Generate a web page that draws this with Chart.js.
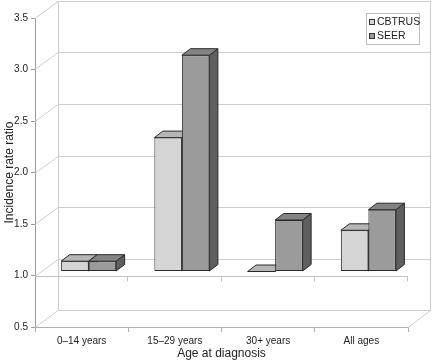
<!DOCTYPE html>
<html>
<head>
<meta charset="utf-8">
<script src="https://cdn.jsdelivr.net/npm/chart.js@4/dist/chart.umd.min.js"></script>
<style>
    html, body { margin: 0; padding: 0; background: #fff; }
    #wrap { width: 432px; height: 360px; position: relative; }
</style>
</head>
<body>
<div id="wrap"><canvas id="chart"></canvas></div>
<script>
// 데이터
const categories = ['0–14 years', '15–29 years', '30+ years', 'All ages'];
const cbtrusValues = [1.1, 2.3, 1.0, 1.4];
const seerValues = [1.1, 3.1, 1.5, 1.6];
const seriesNames = ['CBTRUS', 'SEER'];
const yMin = 0.5, yMax = 3.5, yStep = 0.5;
const barBase = 1.0;

// 3D 느낌을 위한 오프셋
const wallDepth = { x: 23, y: -17 };
const barShift = { x: 7, y: -4 };
const barDepth = { x: 8.5, y: -6.5 };

const frontColors = ['#d5d5d5', '#9b9b9b'];
const topColors = ['#b6b6b6', '#838383'];
const sideColors = ['#8c8c8c', '#5f5f5f'];
const gridColor = '#cdcdcd';

Chart.defaults.font.family = "'Liberation Sans', Arial, sans-serif";
Chart.defaults.color = '#222';

function line(ctx, x1, y1, x2, y2) {
    ctx.beginPath();
    ctx.moveTo(x1, y1);
    ctx.lineTo(x2, y2);
    ctx.stroke();
}

function poly(ctx, pts, fill) {
    ctx.beginPath();
    ctx.moveTo(pts[0][0], pts[0][1]);
    for (let i = 1; i < pts.length; i++) ctx.lineTo(pts[i][0], pts[i][1]);
    ctx.closePath();
    ctx.fillStyle = fill;
    ctx.fill();
    ctx.stroke();
}

// 벽, 바닥, 막대 옆면/윗면 그리기
const box3d = {
    id: 'box3d',
    beforeDatasetsDraw(chart) {
        const ctx = chart.ctx;
        const ys = chart.scales.y, xs = chart.scales.x;
        const L = chart.chartArea.left, R = chart.chartArea.right;
        const top = ys.getPixelForValue(yMax), bottom = ys.getPixelForValue(yMin);

        ctx.save();
        ctx.lineWidth = 1;
        ctx.strokeStyle = gridColor;
        // 뒤쪽 벽 눈금선 + 왼쪽 벽 사선
        for (let v = yMin; v <= yMax + 1e-9; v += yStep) {
            const y = Math.round(ys.getPixelForValue(v)) + 0.5;
            line(ctx, L + wallDepth.x, y + wallDepth.y, R + wallDepth.x, y + wallDepth.y);
            line(ctx, L, y, L + wallDepth.x, y + wallDepth.y);
        }
        const bx = Math.round(L + wallDepth.x) + 0.5;
        const rx = Math.round(R + wallDepth.x) - 0.5;
        line(ctx, bx, top + wallDepth.y, bx, bottom + wallDepth.y);
        line(ctx, rx, top + wallDepth.y, rx, bottom + wallDepth.y + 0.5);
        line(ctx, R, bottom + 0.5, rx, bottom + wallDepth.y + 0.5);

        // 1.0 위치의 가로축 선과 눈금
        const yb = Math.round(ys.getPixelForValue(barBase)) + 0.5;
        ctx.strokeStyle = '#c4c4c4';
        line(ctx, L, yb, R, yb);
        const step = xs.width / categories.length;
        for (let i = 1; i <= categories.length; i++) {
            const x = Math.round(xs.left + i * step) - 0.5;
            line(ctx, x, yb, x, yb + 5);
        }
        ctx.restore();

        // 막대 윗면과 옆면
        ctx.save();
        ctx.translate(barShift.x, barShift.y);
        ctx.lineWidth = 1;
        ctx.strokeStyle = '#2a2a2a';
        ctx.lineJoin = 'round';
        for (let c = 0; c < categories.length; c++) {
            for (let d = 0; d < chart.data.datasets.length; d++) {
                const el = chart.getDatasetMeta(d).data[c];
                const x1 = el.x - el.width / 2, x2 = el.x + el.width / 2;
                const yt = Math.min(el.y, el.base), yB = Math.max(el.y, el.base);
                const dx = barDepth.x, dy = barDepth.y;
                poly(ctx, [[x2, yt], [x2 + dx, yt + dy], [x2 + dx, yB + dy], [x2, yB]], sideColors[d]);
                poly(ctx, [[x1, yt], [x1 + dx, yt + dy], [x2 + dx, yt + dy], [x2, yt]], topColors[d]);
            }
        }
        // 앞면은 Chart.js가 같은 이동값으로 그림
    },
    afterDatasetsDraw(chart) {
        chart.ctx.restore();
    },
    afterDraw(chart) {
        // 범례
        const ctx = chart.ctx;
        const lx = 366, ly = 13, lw = 53, lh = 31;
        ctx.save();
        ctx.fillStyle = '#fff';
        ctx.strokeStyle = '#bdbdbd';
        ctx.lineWidth = 1;
        ctx.fillRect(lx, ly, lw, lh);
        ctx.strokeRect(lx + 0.5, ly + 0.5, lw, lh);
        ctx.font = "10.5px 'Liberation Sans', Arial, sans-serif";
        ctx.textBaseline = 'middle';
        seriesNames.forEach((name, i) => {
            const cy = ly + 9 + i * 14;
            ctx.fillStyle = frontColors[i];
            ctx.strokeStyle = '#333';
            ctx.fillRect(lx + 3.5, cy - 2.5, 5, 5);
            ctx.strokeRect(lx + 3.5, cy - 2.5, 5, 5);
            ctx.fillStyle = '#222';
            ctx.fillText(name, lx + 11, cy);
        });
        ctx.restore();
    }
};

new Chart(document.getElementById('chart'), {
    type: 'bar',
    data: {
        labels: categories,
        datasets: [
            {
                label: seriesNames[0],
                data: cbtrusValues,
                base: barBase,
                backgroundColor: frontColors[0],
                borderColor: '#2a2a2a',
                borderWidth: 1,
                borderSkipped: false,
                categoryPercentage: 0.59,
                barPercentage: 1.0
            },
            {
                label: seriesNames[1],
                data: seerValues,
                base: barBase,
                backgroundColor: frontColors[1],
                borderColor: '#2a2a2a',
                borderWidth: 1,
                borderSkipped: false,
                categoryPercentage: 0.59,
                barPercentage: 1.0
            }
        ]
    },
    options: {
        responsive: true,
        maintainAspectRatio: false,
        animation: false,
        layout: {
            padding: { left: 0, right: 24, top: 18, bottom: 0 }
        },
        plugins: {
            legend: { display: false },
            tooltip: { enabled: false }
        },
        scales: {
            x: {
                grid: {
                    offset: true,
                    drawOnChartArea: false,
                    tickLength: 5,
                    color: '#b0b0b0'
                },
                border: { color: '#b0b0b0' },
                ticks: {
                    padding: 3,
                    maxRotation: 0,
                    font: { size: 10 }
                },
                title: {
                    display: true,
                    text: 'Age at diagnosis',
                    font: { size: 12, lineHeight: 1.1 },
                    padding: { top: 0, bottom: 0 }
                },
                afterFit(scale) { scale.height = 33; }
            },
            y: {
                min: yMin,
                max: yMax,
                ticks: {
                    stepSize: yStep,
                    padding: 3,
                    font: { size: 10 },
                    callback: (v) => v.toFixed(1)
                },
                grid: {
                    drawOnChartArea: false,
                    tickLength: 4,
                    color: '#9a9a9a'
                },
                border: { color: '#9a9a9a' },
                title: {
                    display: true,
                    text: 'Incidence rate ratio',
                    font: { size: 12 },
                    padding: { top: 2, bottom: 0 }
                },
                afterFit(scale) { scale.width = 35; }
            }
        }
    },
    plugins: [box3d]
});
</script>
</body>
</html>
